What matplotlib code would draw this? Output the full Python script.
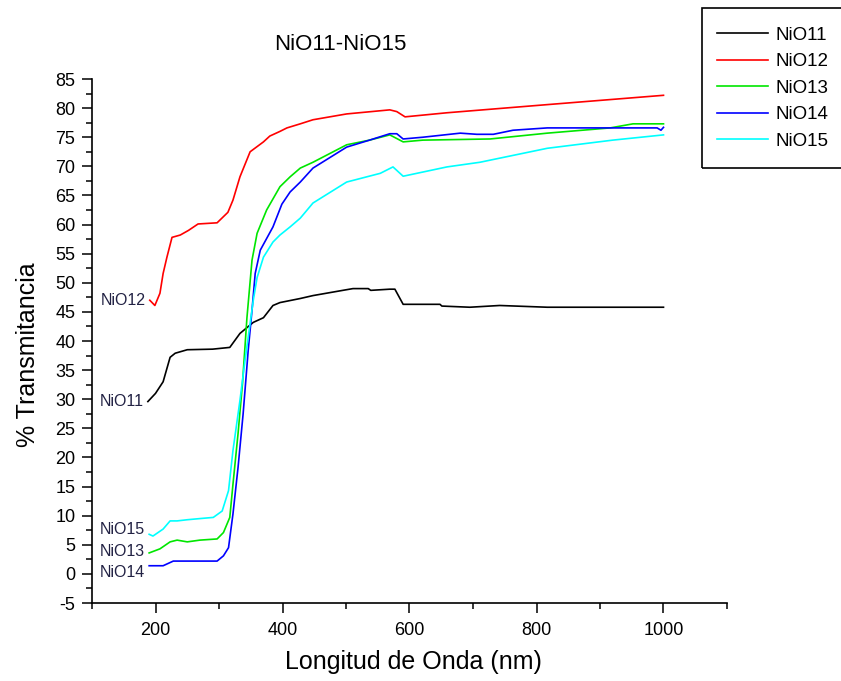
import matplotlib
matplotlib.use("Agg")
import matplotlib.pyplot as plt
from matplotlib.patches import Rectangle
from matplotlib.ticker import MultipleLocator

plt.rcParams['font.family'] = ['Liberation Sans', 'DejaVu Sans']
plt.rcParams['axes.unicode_minus'] = False

# Transmittance spectra (wavelength in nm, % transmittance)
wl_11 = [188, 200, 212, 223, 231, 250, 290, 317, 333, 354, 370, 385, 396, 428, 448,
         495, 511, 535, 539, 569, 577, 590, 648, 651, 695, 742, 817, 1000]
t_11 = [29.6, 31.0, 33.0, 37.2, 37.9, 38.5, 38.6, 38.9, 41.3, 43.2, 44.0, 46.1, 46.6,
        47.3, 47.8, 48.7, 49.0, 49.0, 48.7, 48.9, 48.9, 46.3, 46.3, 46.0, 45.8, 46.1,
        45.8, 45.8]

wl_12 = [191, 199, 207, 212, 218, 226, 239, 252, 267, 297, 314, 322, 333, 349, 370,
         380, 396, 407, 428, 448, 501, 569, 580, 593, 659, 817, 1000]
t_12 = [47.0, 46.1, 48.2, 51.6, 54.4, 57.8, 58.2, 59.0, 60.1, 60.3, 62.1, 64.2, 68.2,
        72.5, 74.2, 75.2, 76.0, 76.6, 77.3, 78.0, 79.0, 79.7, 79.4, 78.5, 79.2, 80.6,
        82.2]

wl_13 = [190, 207, 223, 234, 250, 270, 297, 307, 317, 322, 330, 337, 344, 352, 360,
         375, 396, 412, 428, 448, 501, 537, 569, 590, 621, 727, 817, 916, 952, 1000]
t_13 = [3.6, 4.3, 5.5, 5.8, 5.5, 5.8, 6.0, 7.1, 9.7, 15.4, 24.1, 32.7, 44.0, 53.9,
        58.5, 62.5, 66.5, 68.2, 69.7, 70.7, 73.7, 74.5, 75.4, 74.2, 74.5, 74.7, 75.7,
        76.6, 77.3, 77.3]

wl_14 = [190, 212, 228, 297, 307, 315, 322, 330, 338, 346, 352, 357, 365, 385, 399,
         412, 428, 448, 501, 537, 569, 580, 590, 621, 680, 706, 732, 763, 817, 990,
         996, 1000]
t_14 = [1.4, 1.4, 2.2, 2.2, 3.1, 4.5, 10.3, 18.3, 27.5, 38.4, 45.3, 51.6, 55.6, 59.6,
        63.5, 65.6, 67.3, 69.7, 73.3, 74.5, 75.6, 75.6, 74.7, 75.0, 75.7, 75.5, 75.5,
        76.2, 76.6, 76.6, 76.2, 76.7]

wl_15 = [190, 196, 212, 223, 234, 250, 270, 291, 305, 315, 322, 333, 341, 354, 360,
         370, 385, 396, 412, 428, 448, 501, 554, 574, 590, 659, 711, 817, 920, 1000]
t_15 = [6.8, 6.5, 7.7, 9.1, 9.1, 9.3, 9.5, 9.7, 10.8, 14.3, 21.2, 29.8, 36.7, 47.0,
        50.9, 54.4, 57.0, 58.2, 59.6, 61.1, 63.7, 67.3, 68.8, 69.9, 68.3, 69.9, 70.7,
        73.1, 74.5, 75.4]

series = [
    ("NiO11", wl_11, t_11, "#000000"),
    ("NiO12", wl_12, t_12, "#ff0000"),
    ("NiO13", wl_13, t_13, "#00e600"),
    ("NiO14", wl_14, t_14, "#0000ff"),
    ("NiO15", wl_15, t_15, "#00ffff"),
]

W, H = 841, 681
fig = plt.figure(figsize=(W / 100, H / 100), dpi=100)
ax = fig.add_axes([92 / W, 1 - 603 / H, (727 - 92) / W, (603 - 79) / H])

lines = []
for name, x, y, c in series:
    ln, = ax.plot(x, y, color=c, lw=1.2, label=name)
    lines.append(ln)

ax.set_xlim(100, 1100)
ax.set_ylim(-5, 85)
ax.xaxis.set_major_locator(MultipleLocator(200))
ax.xaxis.set_minor_locator(MultipleLocator(100))
ax.yaxis.set_major_locator(MultipleLocator(5))
ax.yaxis.set_minor_locator(MultipleLocator(2.5))
for s in ("top", "right"):
    ax.spines[s].set_visible(False)
for s in ("left", "bottom"):
    ax.spines[s].set_linewidth(1.2)
ax.tick_params(which="major", direction="out", length=7, width=1.1, labelsize=13)
ax.tick_params(which="minor", direction="out", length=4, width=1.1)
ax.tick_params(axis="x", pad=7)
ax.tick_params(axis="y", pad=5)

# Curve labels at the start of each spectrum
tag_y = {"NiO12": 47.0, "NiO11": 29.6, "NiO15": 7.6, "NiO13": 3.8, "NiO14": 0.2}
for name, x, y, c in series:
    ax.text(x[0] - 7, tag_y[name], name, ha="right", va="center",
            fontsize=11.5, color="#222244")

def fx(px):
    return px / W

def fy(py):
    return 1 - py / H

fig.text(fx(340), fy(44), "NiO11-NiO15", ha="center", va="center", fontsize=16)
fig.text(fx(413), fy(662), "Longitud de Onda (nm)", ha="center", va="center",
         fontsize=18)
fig.text(fx(28), fy(355), "% Transmitancia", ha="center", va="center",
         rotation=90, fontsize=18)

# Legend box
fig.patches.append(Rectangle((fx(702), fy(168)), fx(845) - fx(702), fy(8) - fy(168),
                             transform=fig.transFigure, fill=False,
                             edgecolor="black", lw=1.2))
fig.legend(handles=lines, loc="upper left",
           bbox_to_anchor=(fx(709), fy(19)), frameon=False,
           fontsize=13.5, handlelength=2.75, handletextpad=0.4,
           labelspacing=0.5, borderaxespad=0)

fig.savefig("out.png", dpi=100)
